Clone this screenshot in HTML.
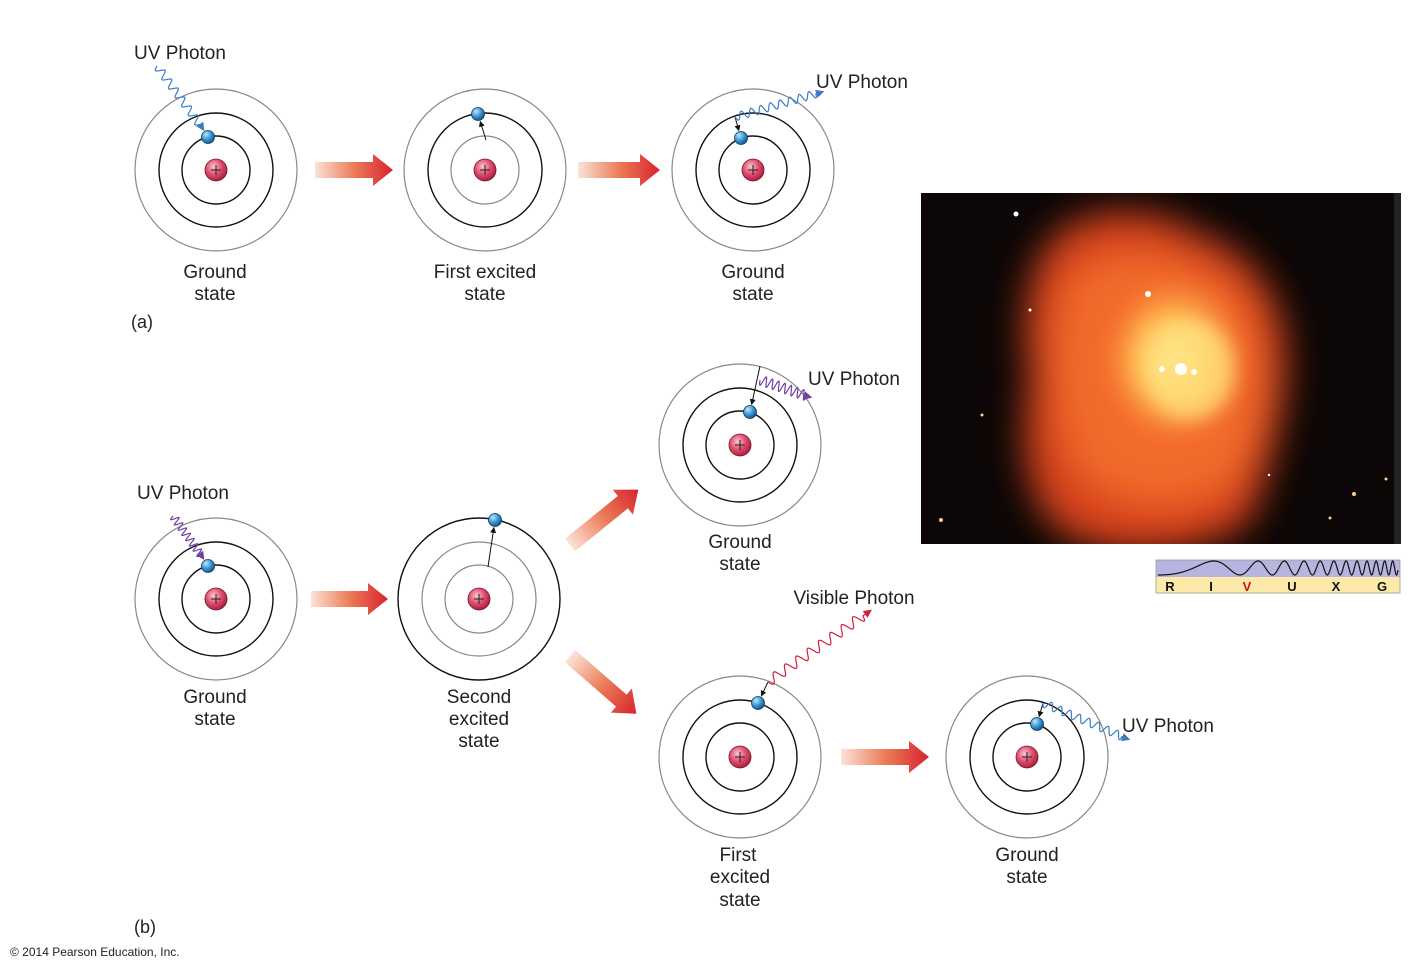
<!DOCTYPE html>
<html><head><meta charset="utf-8">
<style>
html,body{margin:0;padding:0;background:#fff;}
svg{display:block;font-family:"Liberation Sans",sans-serif;}
</style></head>
<body>
<svg id="s" width="1411" height="972" viewBox="0 0 1411 972" xmlns="http://www.w3.org/2000/svg">
<defs>
<radialGradient id="nuc" cx="40%" cy="35%" r="70%">
<stop offset="0" stop-color="#f8c8d4"/><stop offset="0.5" stop-color="#e0506e"/><stop offset="1" stop-color="#a01838"/></radialGradient>
<radialGradient id="ele" cx="35%" cy="30%" r="70%">
<stop offset="0" stop-color="#bfe6fb"/><stop offset="0.55" stop-color="#3a9ad6"/><stop offset="1" stop-color="#1a5a90"/></radialGradient>
<linearGradient id="arr" x1="0" y1="0" x2="1" y2="0">
<stop offset="0" stop-color="#fbe3d8"/><stop offset="0.5" stop-color="#ec7c58"/><stop offset="1" stop-color="#d8232e"/></linearGradient>
<radialGradient id="core" cx="0.5" cy="0.5" r="0.5">
<stop offset="0" stop-color="#fff3a8"/><stop offset="0.5" stop-color="#ffc255"/><stop offset="1" stop-color="#ff8a3a" stop-opacity="0"/></radialGradient>
<clipPath id="nc"><rect x="921" y="193" width="480" height="351"/></clipPath>
<filter id="blur" x="-30%" y="-30%" width="160%" height="160%"><feGaussianBlur stdDeviation="18"/></filter>
<filter id="blur2" x="-30%" y="-30%" width="160%" height="160%"><feGaussianBlur stdDeviation="8"/></filter>
<marker id="ah" markerWidth="6" markerHeight="6" refX="5" refY="3" orient="auto"><path d="M0,0 L6,3 L0,6 z" fill="#111"/></marker>
<marker id="ahb" markerWidth="7" markerHeight="7" refX="5" refY="3.5" orient="auto"><path d="M0,0 L7,3.5 L0,7 z" fill="#3a7cc4"/></marker>
<marker id="ahp" markerWidth="7" markerHeight="7" refX="5" refY="3.5" orient="auto"><path d="M0,0 L7,3.5 L0,7 z" fill="#7040a0"/></marker>
<marker id="ahr" markerWidth="7" markerHeight="7" refX="5" refY="3.5" orient="auto"><path d="M0,0 L7,3.5 L0,7 z" fill="#d0203a"/></marker>
</defs>

<!-- nebula -->
<g clip-path="url(#nc)">
<rect x="921" y="193" width="480" height="351" fill="#0c0606"/>
<g filter="url(#blur)">
<path d="M1045,250 C1070,205 1150,200 1200,235 C1250,250 1285,300 1285,350 C1290,400 1270,470 1250,520 C1200,560 1100,560 1060,530 C1020,500 1020,420 1030,380 C1020,330 1025,280 1045,250 z" fill="#d8431c"/>
<path d="M1070,280 C1110,240 1180,250 1230,290 C1270,330 1270,420 1240,470 C1200,520 1110,510 1080,470 C1050,420 1050,330 1070,280 z" fill="#f26a2a"/>
</g>
<g filter="url(#blur2)">
<ellipse cx="1175" cy="360" rx="75" ry="85" fill="url(#core)"/>
<ellipse cx="1190" cy="370" rx="45" ry="50" fill="#ffe07a" opacity="0.7"/>
</g>
<circle cx="1181" cy="369" r="6" fill="#fff"/>
<circle cx="1148" cy="294" r="3" fill="#fff"/>
<circle cx="1162" cy="369" r="3" fill="#fff"/>
<circle cx="1194" cy="372" r="3" fill="#fff"/>
<circle cx="1016" cy="214" r="2.5" fill="#fff"/>
<circle cx="941" cy="520" r="2" fill="#fc8"/>
<circle cx="1354" cy="494" r="2" fill="#fc8"/>
<circle cx="1386" cy="479" r="1.5" fill="#fc8"/>
<circle cx="1330" cy="518" r="1.5" fill="#fc8"/>
<circle cx="1030" cy="310" r="1.5" fill="#fff"/>
<circle cx="982" cy="415" r="1.5" fill="#fc8"/>
<circle cx="1269" cy="475" r="1.2" fill="#fff"/>
<rect x="1394" y="193" width="7" height="351" fill="#222"/>
</g>

<!-- spectrum -->
<rect x="1156" y="560" width="244" height="17" fill="#b8b4e0"/>
<rect x="1156" y="577" width="244" height="16" fill="#fdeaa8"/>
<rect x="1156" y="560" width="244" height="33" fill="none" stroke="#999" stroke-width="0.8"/>
<path id="spec" fill="none" stroke="#111" stroke-width="1.2"/>
<g font-size="13" font-weight="bold" fill="#111" text-anchor="middle">
<text x="1170" y="591">R</text><text x="1211" y="591">I</text><text x="1247" y="591" fill="#d0101a">V</text>
<text x="1292" y="591">U</text><text x="1336" y="591">X</text><text x="1382" y="591">G</text></g>

<g id="atoms"></g>

<!-- block arrows -->
<g fill="url(#arr)">
<path transform="translate(315,170)" d="M0,-8 L58,-8 L58,-16 L78,0 L58,16 L58,8 L0,8 z"/>
<path transform="translate(578,170)" d="M0,-8 L62,-8 L62,-16 L82,0 L62,16 L62,8 L0,8 z"/>
<path transform="translate(311,599)" d="M0,-8 L57,-8 L57,-16 L77,0 L57,16 L57,8 L0,8 z"/>
<path transform="translate(841,757)" d="M0,-8 L68,-8 L68,-16 L88,0 L68,16 L68,8 L0,8 z"/>
<path transform="translate(570,545) rotate(-39)" d="M0,-8 L68,-8 L68,-16 L88,0 L68,16 L68,8 L0,8 z"/>
<path transform="translate(570,656) rotate(41)" d="M0,-8 L68,-8 L68,-16 L88,0 L68,16 L68,8 L0,8 z"/>
</g>

<g id="waves"></g>

<!-- labels -->
<g font-size="19" fill="#222" text-anchor="middle">
<text x="180" y="59">UV Photon</text>
<text x="862" y="88">UV Photon</text>
<text x="215" y="278">Ground</text><text x="215" y="300">state</text>
<text x="485" y="278">First excited</text><text x="485" y="300">state</text>
<text x="753" y="278">Ground</text><text x="753" y="300">state</text>
<text x="142" y="328" font-size="18">(a)</text>
<text x="854" y="385">UV Photon</text>
<text x="740" y="548">Ground</text><text x="740" y="570">state</text>
<text x="183" y="499">UV Photon</text>
<text x="215" y="703">Ground</text><text x="215" y="725">state</text>
<text x="479" y="703">Second</text><text x="479" y="725">excited</text><text x="479" y="747">state</text>
<text x="854" y="604">Visible Photon</text>
<text x="738" y="861">First</text><text x="740" y="883">excited</text><text x="740" y="906">state</text>
<text x="1027" y="861">Ground</text><text x="1027" y="883">state</text>
<text x="1168" y="732">UV Photon</text>
<text x="145" y="933" font-size="18">(b)</text>
</g>
<text x="10" y="956" font-size="12" fill="#222">© 2014 Pearson Education, Inc.</text>
</svg>
<script>
var NS="http://www.w3.org/2000/svg";
function el(p,t,a){var e=document.createElementNS(NS,t);for(var k in a)e.setAttribute(k,a[k]);p.appendChild(e);return e;}
var A=document.getElementById("atoms");
function atom(cx,cy,cols,ex,ey,ax,ay){
 var r=[34,57,81];
 for(var i=0;i<3;i++)el(A,"circle",{cx:cx,cy:cy,r:r[i],fill:"none",stroke:cols[i],"stroke-width":cols[i]=="#111"?1.4:1.2});
 el(A,"circle",{cx:cx,cy:cy,r:11,fill:"url(#nuc)",stroke:"#7a1028","stroke-width":0.8});
 el(A,"path",{d:"M"+(cx-5)+","+cy+"h10M"+cx+","+(cy-5)+"v10",stroke:"#222","stroke-width":1});
 if(ax!==undefined){
  var dx=ex-ax,dy=ey-ay,L=Math.sqrt(dx*dx+dy*dy);
  el(A,"line",{x1:ax,y1:ay,x2:ex-dx/L*8,y2:ey-dy/L*8,stroke:"#111","stroke-width":1,"marker-end":"url(#ah)"});
 }
 el(A,"circle",{cx:ex,cy:ey,r:6.5,fill:"url(#ele)",stroke:"#0d3a60","stroke-width":0.8});
}
var K="#111",G="#888";
atom(216,170,[K,K,G],208,137);
atom(485,170,[G,K,G],478,114,486,140);
atom(753,170,[K,K,G],741,138,735,117);
atom(216,599,[K,K,G],208,566);
atom(479,599,[G,G,K],495,520,488,567);
atom(740,445,[K,K,G],750,412,760,366);
atom(740,757,[K,K,G],758,703,768,682);
atom(1027,757,[K,K,G],1037,724,1043,703);
var W=document.getElementById("waves");
function wave(x1,y1,x2,y2,n,amp,col,mk){
 var dx=x2-x1,dy=y2-y1,L=Math.sqrt(dx*dx+dy*dy),ux=dx/L,uy=dy/L,px=-uy,py=ux,d="";
 var steps=n*16;
 for(var i=0;i<=steps;i++){var t=i/steps,s=Math.sin(t*n*2*Math.PI)*amp*(t>0.93?0:1);
  var x=x1+dx*t+px*s,y=y1+dy*t+py*s;d+=(i?"L":"M")+x.toFixed(1)+","+y.toFixed(1);}
 el(W,"path",{d:d,fill:"none",stroke:col,"stroke-width":1.2,"marker-end":mk});
}
wave(157,66,203,129,7,4,"#3a7cc4","url(#ahb)");
wave(735,117,822,92,9,4,"#3a7cc4","url(#ahb)");
wave(173,516,203,558,8,4,"#7040a0","url(#ahp)");
wave(760,380,810,397,8,5,"#7040a0","url(#ahp)");
wave(768,682,870,611,9,5,"#d0203a","url(#ahr)");
wave(1043,703,1128,739,9,4,"#3a7cc4","url(#ahb)");
var d="",x0=1158,x1=1398;
for(var i=0;i<=1200;i++){var t=i/1200,x=x0+(x1-x0)*t,ph=2*Math.PI*(1.2*t+9*t*t*t+2*t*t)+Math.PI;
 var y=568-Math.cos(ph)*7;d+=(i?"L":"M")+x.toFixed(2)+","+y.toFixed(2);}
document.getElementById("spec").setAttribute("d",d);
</script>
</body></html>
